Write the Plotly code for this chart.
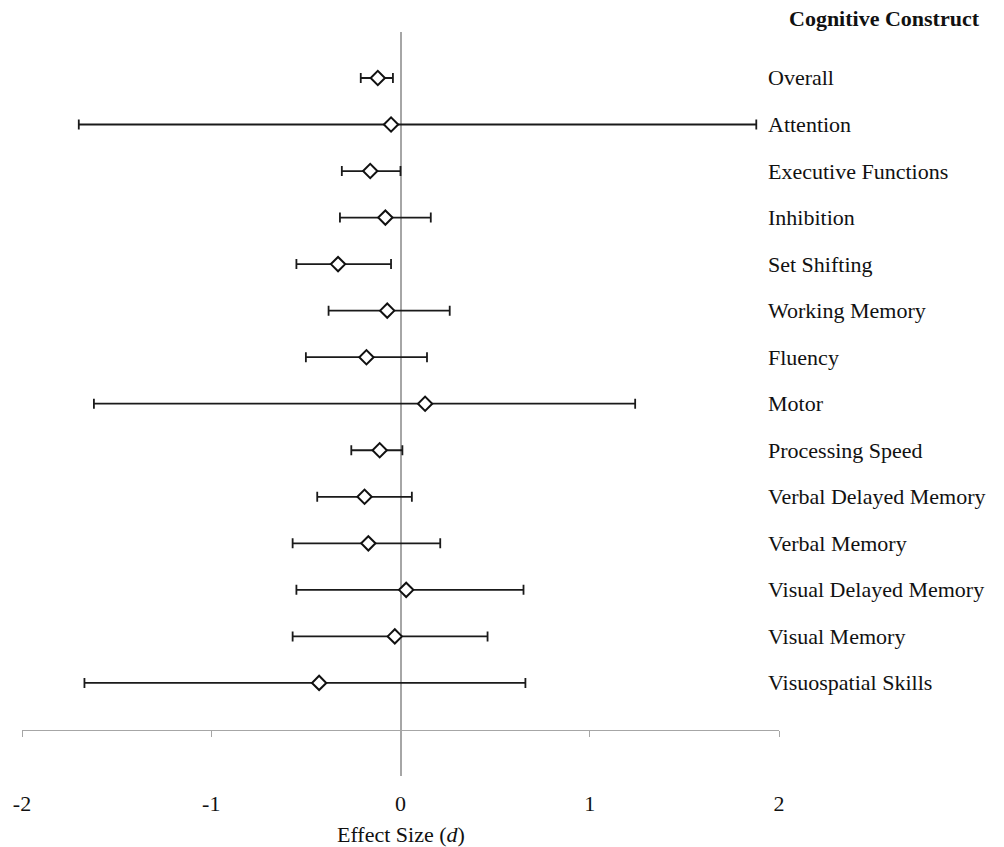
import plotly.graph_objects as go

categories = ["Overall", "Attention", "Executive Functions", "Inhibition", "Set Shifting",
              "Working Memory", "Fluency", "Motor", "Processing Speed", "Verbal Delayed Memory",
              "Verbal Memory", "Visual Delayed Memory", "Visual Memory", "Visuospatial Skills"]
effect = [-0.12, -0.05, -0.16, -0.08, -0.33, -0.07, -0.18, 0.13, -0.11, -0.19, -0.17, 0.03, -0.03, -0.43]
ci_low = [-0.21, -1.70, -0.31, -0.32, -0.55, -0.38, -0.50, -1.62, -0.26, -0.44, -0.57, -0.55, -0.57, -1.67]
ci_high = [-0.04, 1.88, 0.00, 0.16, -0.05, 0.26, 0.14, 1.24, 0.01, 0.06, 0.21, 0.65, 0.46, 0.66]
x_ticks = [-2, -1, 0, 1, 2]

FONT = "Liberation Serif, Times New Roman, serif"
FS = 22

err_plus = [h - e for h, e in zip(ci_high, effect)]
err_minus = [e - l for e, l in zip(effect, ci_low)]

fig = go.Figure()
fig.add_trace(go.Scatter(
    x=effect, y=categories, mode="markers",
    marker=dict(symbol="diamond", size=11, color="white",
                line=dict(color="#111111", width=2)),
    error_x=dict(type="data", symmetric=False, array=err_plus, arrayminus=err_minus,
                 color="#1a1a1a", thickness=1.8, width=5),
    showlegend=False, cliponaxis=False,
))

annotations = []
for c in categories:
    annotations.append(dict(x=0.9834, xref="paper", y=c, yref="y", text=c,
                            xanchor="left", yanchor="middle", showarrow=False,
                            font=dict(family=FONT, size=FS, color="#111111")))
annotations.append(dict(x=1.1394, xref="paper", y=1.0175, yref="paper",
                        text="<b>Cognitive Construct</b>", xanchor="center", yanchor="middle",
                        showarrow=False, font=dict(family=FONT, size=FS, color="#111111")))
annotations.append(dict(x=0.5, xref="paper", y=-0.079, yref="paper",
                        text="Effect Size (<i>d</i>)", xanchor="center", yanchor="middle",
                        showarrow=False, font=dict(family=FONT, size=FS, color="#111111")))

fig.update_layout(
    width=996, height=839,
    margin=dict(l=14, r=225, t=24, b=71),
    paper_bgcolor="white", plot_bgcolor="white",
    font=dict(family=FONT, size=FS, color="#111111"),
    xaxis=dict(range=[-2, 2], tickvals=x_ticks, ticktext=[str(v) for v in x_ticks],
               showgrid=False, zeroline=True, zerolinecolor="#a6a6a6", zerolinewidth=1.5,
               showline=True, linecolor="#a6a6a6", linewidth=1.3,
               ticks="outside", ticklen=6, tickcolor="#a6a6a6", tickwidth=1.3,
               anchor="free", position=0.0618, ticklabelstandoff=47, automargin=False,
               tickfont=dict(family=FONT, size=FS, color="#111111")),
    yaxis=dict(type="category", categoryorder="array", categoryarray=categories,
               range=[15.0, -0.988], visible=False, showgrid=False, zeroline=False,
               automargin=False),
    annotations=annotations,
)

fig.write_html("out.html")
